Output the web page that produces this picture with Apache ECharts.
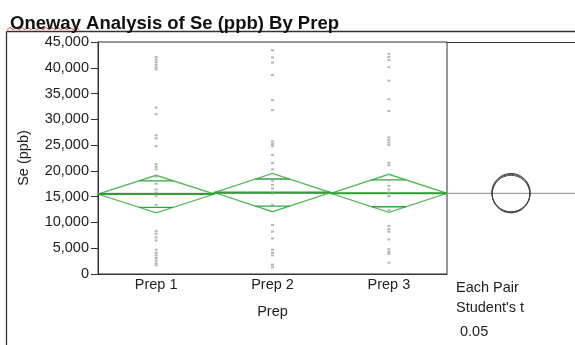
<!DOCTYPE html>
<html><head><meta charset="utf-8">
<script src="https://cdn.jsdelivr.net/npm/echarts@6/dist/echarts.min.js"></script>
<style>html,body{margin:0;padding:0;background:#fff}#c{width:575px;height:345px}</style>
</head><body><div id="c"></div>
<script>
var categories = ['Prep 1', 'Prep 2', 'Prep 3'];
var prep1 = [42100, 41600, 41100, 40600, 40100, 39700, 32300, 31000, 26900, 26300, 24800, 21300, 20800, 20300, 18900, 17500, 16400, 15800, 15100, 13400, 8300, 7800, 7100, 6500, 4700, 4100, 3600, 3100, 2600, 2100, 1700];
var prep2 = [43400, 42000, 41000, 38600, 33700, 31800, 25700, 25200, 24800, 23100, 21500, 20300, 18100, 17300, 16600, 15600, 13400, 9500, 8200, 6900, 4700, 4100, 3600, 1800, 1300];
var prep3 = [42700, 42100, 41500, 40100, 37500, 33900, 31600, 26500, 26000, 25500, 25000, 21600, 21100, 18200, 17100, 16400, 15800, 15100, 12400, 9300, 8700, 8200, 6700, 4800, 4300, 3900, 2200];
var groupMeans = [15500, 15800, 15650];
var groupCI = [3650, 3720, 3690];
var grandMean = 15650;
var yTicks = [0, 5000, 10000, 15000, 20000, 25000, 30000, 35000, 40000, 45000];
var panelText = ['Each Pair', "Student's t", ' 0.05'];

var FONT = 'Arial, "Liberation Sans", sans-serif';
var groups = [prep1, prep2, prep3];
var pts = [];
groups.forEach(function (g, i) { g.forEach(function (v) { pts.push([i + 0.5, v]); }); });
var diamondData = groupMeans.map(function (m, i) { return [i, m, groupCI[i]]; });
var circleData = groupMeans.map(function (m, i) { return [0.5, m, groupCI[i]]; });

var chart = echarts.init(document.getElementById('c'), null, {renderer: 'canvas'});

// spell-check squiggle under the first word of the title (decoration)
var squig = [];
for (var k = 0; k <= 24; k++) squig.push([7 + k * 3, 27.5 + (k % 2 ? 0 : 2.2)]);

chart.setOption({
  animation: false,
  title: {
    text: 'Oneway Analysis of Se (ppb) By Prep', left: 5, top: 9,
    textStyle: {fontFamily: FONT, fontWeight: 'bold', fontSize: 18.5, color: '#111'}
  },
  grid: [
    {left: 98, top: 42, width: 349, height: 232, show: true, borderColor: '#333', borderWidth: 1, backgroundColor: 'transparent'},
    {left: 447, top: 42, right: 0, height: 232}
  ],
  xAxis: [
    {type: 'category', gridIndex: 0, data: categories, boundaryGap: true,
     name: 'Prep', nameLocation: 'middle', nameGap: 30,
     nameTextStyle: {fontFamily: FONT, fontSize: 14.5, color: '#222'},
     axisLine: {lineStyle: {color: '#333'}}, axisTick: {length: 5, lineStyle: {color: '#333'}},
     axisLabel: {margin: 3, fontFamily: FONT, fontSize: 14.5, color: '#222'}, splitLine: {show: false}},
    {type: 'value', gridIndex: 0, min: 0, max: 3, show: false},
    {type: 'value', gridIndex: 1, min: 0, max: 1, position: 'top',
     axisLine: {show: true, onZero: false, lineStyle: {color: '#333'}}, axisTick: {show: false}, axisLabel: {show: false}, splitLine: {show: false}}
  ],
  yAxis: [
    {type: 'value', gridIndex: 0, min: 0, max: 45000, interval: 5000,
     name: 'Se (ppb)', nameLocation: 'middle', nameGap: 67,
     nameTextStyle: {fontFamily: FONT, fontSize: 14.5, color: '#222'},
     axisLine: {show: true, lineStyle: {color: '#333'}}, axisTick: {show: true, length: 7, lineStyle: {color: '#333'}},
     axisLabel: {margin: 9, fontFamily: FONT, fontSize: 14.5, color: '#222',
       formatter: function (v) { return yTicks.indexOf(v) >= 0 ? v.toLocaleString('en-US') : ''; }},
     splitLine: {show: false}},
    {type: 'value', gridIndex: 1, min: 0, max: 45000, show: false}
  ],
  graphic: [
    {type: 'line', shape: {x1: 6.5, y1: 31.5, x2: 575, y2: 31.5}, style: {stroke: '#333', lineWidth: 1.3}},
    {type: 'line', shape: {x1: 6.5, y1: 31.5, x2: 6.5, y2: 345}, style: {stroke: '#333', lineWidth: 1.3}},
    {type: 'polyline', shape: {points: squig}, style: {stroke: '#e05050', lineWidth: 1, fill: null}},
    {type: 'text', left: 456, top: 280, style: {text: panelText[0], font: '14.5px ' + FONT, fill: '#222'}},
    {type: 'text', left: 456, top: 300, style: {text: panelText[1], font: '14.5px ' + FONT, fill: '#222'}},
    {type: 'text', left: 456, top: 324, style: {text: panelText[2], font: '14.5px ' + FONT, fill: '#222'}}
  ],
  series: [
    {type: 'line', xAxisIndex: 1, yAxisIndex: 0, data: [[0, grandMean], [3, grandMean]],
     symbol: 'none', lineStyle: {color: '#8a8a8a', width: 1}, z: 1, silent: true},
    {type: 'line', xAxisIndex: 2, yAxisIndex: 1, data: [[0, grandMean], [1, grandMean]],
     symbol: 'none', lineStyle: {color: '#8a8a8a', width: 1}, z: 1, silent: true},
    {type: 'custom', xAxisIndex: 1, yAxisIndex: 0, data: diamondData, z: 2,
     renderItem: function (params, api) {
       var i = api.value(0), m = api.value(1), ci = api.value(2);
       var L = api.coord([i, m]), T = api.coord([i + 0.5, m + ci]), R = api.coord([i + 1, m]), B = api.coord([i + 0.5, m - ci]);
       var d = ci / Math.SQRT2, f = 0.5 * (1 - 1 / Math.SQRT2);
       var o1a = api.coord([i + 0.5 - f, m + d]), o1b = api.coord([i + 0.5 + f, m + d]);
       var o2a = api.coord([i + 0.5 - f, m - d]), o2b = api.coord([i + 0.5 + f, m - d]);
       return {type: 'group', children: [
         {type: 'polygon', shape: {points: [L, T, R, B]}, style: {fill: null, stroke: '#55b95a', lineWidth: 1.3}},
         {type: 'line', shape: {x1: L[0], y1: L[1], x2: R[0], y2: R[1]}, style: {stroke: '#2f9e35', lineWidth: 2}},
         {type: 'line', shape: {x1: o1a[0], y1: o1a[1], x2: o1b[0], y2: o1b[1]}, style: {stroke: '#36a23b', lineWidth: 1.3}},
         {type: 'line', shape: {x1: o2a[0], y1: o2a[1], x2: o2b[0], y2: o2b[1]}, style: {stroke: '#36a23b', lineWidth: 1.3}}
       ]};
     }},
    {type: 'scatter', xAxisIndex: 1, yAxisIndex: 0, data: pts, symbol: 'rect', symbolSize: [3, 2],
     itemStyle: {color: '#a2a2a2'}, z: 3, silent: true},
    {type: 'custom', xAxisIndex: 2, yAxisIndex: 1, data: circleData, z: 3,
     renderItem: function (params, api) {
       var c = api.coord([api.value(0), api.value(1)]);
       var r = api.size([0, api.value(2)])[1];
       return {type: 'circle', shape: {cx: c[0], cy: c[1], r: r}, style: {fill: null, stroke: '#3a3a3a', lineWidth: 0.9}};
     }}
  ]
});
</script></body></html>
